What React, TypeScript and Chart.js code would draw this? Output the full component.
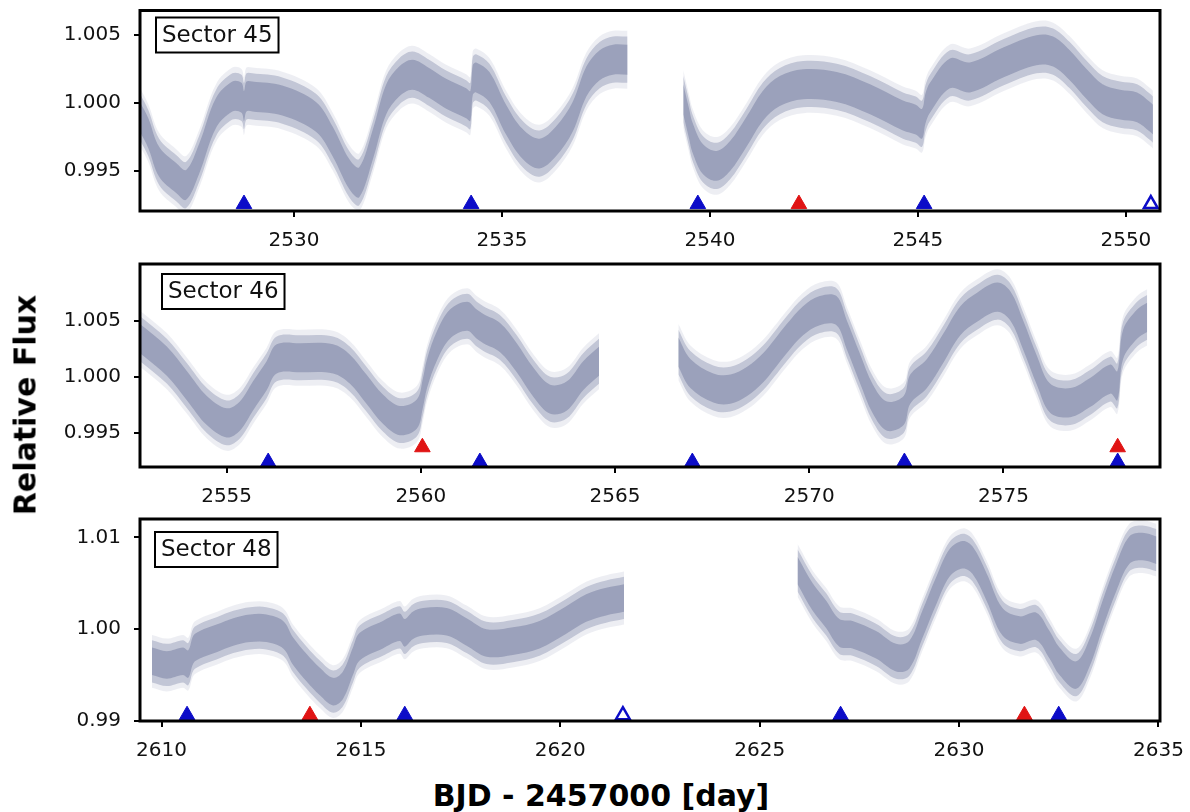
import { useEffect, useRef } from "react";
import { Chart, registerables } from "chart.js";

Chart.register(...registerables);

// ---------- Sector 45 ----------
const s45aTime = [2526.3, 2526.5, 2526.76, 2527.17, 2527.41, 2527.72, 2528.13, 2528.52, 2528.74, 2528.8, 2528.86, 2529.0, 2529.72, 2530.53, 2530.93, 2531.33, 2531.57, 2531.9, 2532.22, 2532.53, 2532.85, 2533.25, 2533.66, 2534.14, 2534.24, 2534.3, 2534.38, 2534.7, 2535.1, 2535.5, 2535.9, 2536.3, 2536.7, 2537.03, 2537.35, 2537.67, 2538.02];
const s45aFlux = [0.999, 0.9978, 0.9957, 0.9945, 0.994, 0.9959, 0.9993, 1.0005, 1.0004, 0.9998, 1.0005, 1.0005, 1.0002, 0.999, 0.9972, 0.9948, 0.9942, 0.997, 1.0003, 1.0016, 1.0021, 1.0015, 1.0007, 1.0, 0.9998, 1.0017, 1.0019, 1.0012, 0.9988, 0.997, 0.9963, 0.9972, 0.999, 1.0016, 1.0028, 1.0032, 1.0032];
const s45bTime = [2539.36, 2539.5, 2539.58, 2539.83, 2540.16, 2540.48, 2540.88, 2541.27, 2541.68, 2542.24, 2543.05, 2543.85, 2544.64, 2544.95, 2545.1, 2545.18, 2545.29, 2545.77, 2546.25, 2547.05, 2547.85, 2548.25, 2548.65, 2549.06, 2549.44, 2549.86, 2550.27, 2550.58, 2550.65];
const s45bFlux = [1.0003, 0.9985, 0.9975, 0.9959, 0.9954, 0.9961, 0.9979, 0.9998, 1.0009, 1.0014, 1.0012, 1.0003, 0.9991, 0.9988, 0.9985, 0.9996, 1.0004, 1.0022, 1.0019, 1.003, 1.0039, 1.0038, 1.0028, 1.0014, 1.0003, 0.9999, 0.9997, 0.999, 0.9988];
const s45Blue = [2528.8, 2534.26, 2539.71, 2545.15];
const s45BlueOpen = [2550.6];
const s45Red = [2542.14];
const s45XTicks = [2530, 2535, 2540, 2545, 2550];
const s45YTicks = [0.995, 1.0, 1.005];

// ---------- Sector 46 ----------
const s46aTime = [2552.77, 2553.46, 2553.98, 2554.49, 2555.0, 2555.34, 2555.68, 2556.03, 2556.29, 2556.89, 2557.74, 2558.17, 2558.6, 2559.03, 2559.46, 2559.9, 2560.05, 2560.16, 2560.42, 2560.75, 2561.19, 2561.44, 2561.61, 2562.04, 2562.47, 2562.9, 2563.33, 2563.76, 2564.18, 2564.59];
const s46aFlux = [1.0034, 1.0014, 0.9992, 0.997, 0.9959, 0.9965, 0.9983, 1.0001, 1.0016, 1.0017, 1.0016, 1.0007, 0.9989, 0.9971, 0.9961, 0.9967, 0.9985, 1.0003, 1.0028, 1.0047, 1.0054, 1.0047, 1.0043, 1.0035, 1.0017, 0.9995, 0.998, 0.9983, 1.0001, 1.0014];
const s46bTime = [2566.63, 2566.94, 2567.53, 2567.97, 2568.4, 2568.81, 2569.1, 2569.42, 2569.84, 2570.27, 2570.7, 2570.96, 2571.3, 2571.64, 2572.0, 2572.43, 2572.6, 2573.03, 2573.46, 2573.89, 2574.32, 2574.84, 2575.18, 2575.51, 2575.87, 2576.2, 2576.72, 2577.23, 2577.75, 2577.93, 2578.08, 2578.44, 2578.7];
const s46bFlux = [1.0022, 1.0003, 0.999, 0.9989, 0.9996, 1.0008, 1.002, 1.0034, 1.005, 1.0059, 1.0059, 1.0038, 1.0008, 0.998, 0.9965, 0.997, 0.9989, 1.0003, 1.0026, 1.005, 1.0062, 1.0071, 1.0063, 1.0037, 1.0005, 0.9981, 0.9977, 0.9986, 0.9998, 0.9992, 1.0029, 1.0047, 1.0053];
const s46Blue = [2556.07, 2561.52, 2566.99, 2572.45, 2577.94];
const s46BlueOpen: number[] = [];
const s46Red = [2560.04, 2577.94];
const s46XTicks = [2555, 2560, 2565, 2570, 2575];
const s46YTicks = [0.995, 1.0, 1.005];

// ---------- Sector 48 ----------
const s48aTime = [2609.76, 2610.13, 2610.54, 2610.67, 2610.8, 2610.96, 2611.38, 2611.8, 2612.22, 2612.63, 2613.05, 2613.3, 2613.64, 2613.97, 2614.3, 2614.55, 2614.8, 2614.97, 2615.55, 2615.97, 2616.1, 2616.3, 2616.56, 2617.15, 2617.65, 2618.15, 2618.81, 2619.48, 2620.15, 2620.65, 2621.15, 2621.6];
const s48aFlux = [0.9965, 0.9961, 0.9965, 0.9962, 0.9978, 0.9983, 0.999, 0.9997, 1.0001, 1.0001, 0.9994, 0.9976, 0.9958, 0.9943, 0.9932, 0.9939, 0.9965, 0.9981, 0.9994, 1.0002, 0.9996, 1.0004, 1.0008, 1.0008, 0.9997, 0.9985, 0.9987, 0.9994, 1.001, 1.0023, 1.003, 1.0034];
const s48bTime = [2625.95, 2626.33, 2626.67, 2627.0, 2627.33, 2627.92, 2628.42, 2628.75, 2629.08, 2629.42, 2629.76, 2630.09, 2630.34, 2630.69, 2631.09, 2631.52, 2631.94, 2632.27, 2632.52, 2632.94, 2633.27, 2633.6, 2633.94, 2634.27, 2634.6, 2634.95];
const s48bFlux = [1.0064, 1.0035, 1.0016, 0.9996, 0.9994, 0.9983, 0.9969, 0.9972, 1.0005, 1.0041, 1.0072, 1.0081, 1.0075, 1.0046, 1.0008, 0.9999, 1.0003, 0.9983, 0.9965, 0.995, 0.9974, 1.0016, 1.0056, 1.0086, 1.009, 1.0086];
const s48Blue = [2610.64, 2616.1, 2627.03, 2632.5];
const s48BlueOpen = [2621.57];
const s48Red = [2613.72, 2631.64];
const s48XTicks = [2610, 2615, 2620, 2625, 2630, 2635];
const s48YTicks = [0.99, 1.0, 1.01];

type Panel = {
  label: string;
  top: number;
  height: number;
  padTop: number;
  xHeight: number;
  xMin: number;
  xMax: number;
  yMin: number;
  yMax: number;
  xTicks: number[];
  yTicks: number[];
  yDec: number;
  segments: [number[], number[]][];
  bandOuter: number;
  bandInner: number;
  blue: number[];
  blueOpen: number[];
  red: number[];
  markY: number;
  redY: number;
  boxDx: number;
  boxDy: number;
};

const panels: Panel[] = [
  {
    label: "Sector 45", top: 0, height: 252, padTop: 10, xHeight: 41,
    xMin: 2526.3, xMax: 2550.82, yMin: 0.99208, yMax: 1.00682,
    xTicks: s45XTicks, yTicks: s45YTicks, yDec: 3,
    segments: [[s45aTime, s45aFlux], [s45bTime, s45bFlux]],
    bandOuter: 0.0017, bandInner: 0.0011,
    blue: s45Blue, blueOpen: s45BlueOpen, red: s45Red,
    markY: 0.99259, redY: 0.99259, boxDx: 16, boxDy: 7,
  },
  {
    label: "Sector 46", top: 252, height: 254, padTop: 12, xHeight: 39,
    xMin: 2552.77, xMax: 2579.03, yMin: 0.99196, yMax: 1.01006,
    xTicks: s46XTicks, yTicks: s46YTicks, yDec: 3,
    segments: [[s46aTime, s46aFlux], [s46bTime, s46bFlux]],
    bandOuter: 0.002, bandInner: 0.0013,
    blue: s46Blue, blueOpen: s46BlueOpen, red: s46Red,
    markY: 0.9924, redY: 0.99372, boxDx: 22, boxDy: 10,
  },
  {
    label: "Sector 48", top: 506, height: 254, padTop: 13, xHeight: 39,
    xMin: 2609.46, xMax: 2635.04, yMin: 0.99, yMax: 1.012,
    xTicks: s48XTicks, yTicks: s48YTicks, yDec: 2,
    segments: [[s48aTime, s48aFlux], [s48bTime, s48bFlux]],
    bandOuter: 0.0023, bandInner: 0.0015,
    blue: s48Blue, blueOpen: s48BlueOpen, red: s48Red,
    markY: 0.99063, redY: 0.99063, boxDx: 15, boxDy: 13,
  },
];

const FONT = "'DejaVu Sans', sans-serif";
const BAND = "142,149,178";
const BLUE = "#0c0cc8";
const RED = "#e01414";

function PanelChart({ p }: { p: Panel }) {
  const ref = useRef<HTMLCanvasElement>(null);
  useEffect(() => {
    if (!ref.current) return;
    const datasets: any[] = [];
    datasets.push({
      label: "blue", data: p.blue.map((x) => ({ x, y: p.markY })),
      showLine: false, pointStyle: "triangle", pointRadius: 9, pointHoverRadius: 9,
      backgroundColor: BLUE, borderColor: BLUE, borderWidth: 1, order: 0,
    });
    datasets.push({
      label: "blueOpen", data: p.blueOpen.map((x) => ({ x, y: p.markY })),
      showLine: false, pointStyle: "triangle", pointRadius: 8, pointHoverRadius: 8,
      backgroundColor: "#ffffff", borderColor: BLUE, borderWidth: 2.5, order: 0,
    });
    datasets.push({
      label: "red", data: p.red.map((x) => ({ x, y: p.redY })),
      showLine: false, pointStyle: "triangle", pointRadius: 9, pointHoverRadius: 9,
      backgroundColor: RED, borderColor: RED, borderWidth: 1, order: 0,
    });
    const layers: [number, string][] = [
      [p.bandOuter * 1.25, `rgba(${BAND},0.16)`],
      [p.bandOuter, `rgba(${BAND},0.45)`],
      [p.bandInner, `rgba(${BAND},0.75)`],
    ];
    for (const [t, f] of p.segments) {
      for (const [h, col] of layers) {
        datasets.push({
          label: "lo", data: t.map((x, i) => ({ x, y: f[i] - h })),
          borderWidth: 0, pointRadius: 0, fill: false, tension: 0.35,
          borderColor: "rgba(0,0,0,0)", order: 2,
        });
        datasets.push({
          label: "hi", data: t.map((x, i) => ({ x, y: f[i] + h })),
          borderWidth: 0, pointRadius: 0, fill: "-1", backgroundColor: col, tension: 0.35,
          borderColor: "rgba(0,0,0,0)", order: 2,
        });
      }
    }
    const framePlugin = {
      id: "frame" + p.label.replace(" ", ""),
      afterDraw(chart: any) {
        const { ctx, chartArea: a } = chart;
        ctx.save();
        ctx.strokeStyle = "#000";
        ctx.lineWidth = 3;
        ctx.strokeRect(a.left, a.top, a.right - a.left, a.bottom - a.top);
        ctx.font = `23px ${FONT}`;
        const tw = ctx.measureText(p.label).width;
        const bw = tw + 12;
        const bh = 35;
        const bx = a.left + p.boxDx;
        const by = a.top + p.boxDy;
        ctx.fillStyle = "#fff";
        ctx.fillRect(bx, by, bw, bh);
        ctx.lineWidth = 2;
        ctx.strokeRect(bx, by, bw, bh);
        ctx.fillStyle = "#111";
        ctx.textAlign = "center";
        ctx.textBaseline = "middle";
        ctx.fillText(p.label, bx + bw / 2, by + bh / 2 + 1);
        ctx.restore();
      },
    };
    const chart = new Chart(ref.current, {
      type: "line",
      data: { datasets },
      options: {
        animation: false,
        responsive: false,
        maintainAspectRatio: false,
        events: [],
        layout: { padding: { top: p.padTop, right: 30, left: 0, bottom: 0 } },
        plugins: { legend: { display: false }, tooltip: { enabled: false } },
        scales: {
          x: {
            type: "linear", min: p.xMin, max: p.xMax,
            afterBuildTicks: (s: any) => { s.ticks = p.xTicks.map((v) => ({ value: v })); },
            afterFit: (s: any) => { s.height = p.xHeight; s.paddingLeft = 0; s.paddingRight = 0; },
            grid: { display: true, drawOnChartArea: false, drawTicks: true, tickLength: 6, color: "#000", lineWidth: 2 },
            border: { display: false },
            ticks: { color: "#111", font: { family: FONT, size: 20 }, padding: 12, maxRotation: 0, callback: (v: any) => String(v) },
          },
          y: {
            type: "linear", min: p.yMin, max: p.yMax,
            afterBuildTicks: (s: any) => { s.ticks = p.yTicks.map((v) => ({ value: v })); },
            afterFit: (s: any) => { s.width = 140; s.paddingTop = 0; s.paddingBottom = 0; },
            grid: { display: true, drawOnChartArea: false, drawTicks: true, tickLength: 6, color: "#000", lineWidth: 2 },
            border: { display: false },
            ticks: { color: "#111", font: { family: FONT, size: 20 }, padding: 13, callback: (v: any) => Number(v).toFixed(p.yDec) },
          },
        },
      } as any,
      plugins: [framePlugin],
    });
    return () => chart.destroy();
  }, [p]);
  return (
    <div style={{ position: "absolute", left: 0, top: p.top, width: 1190, height: p.height }}>
      <canvas ref={ref} width={1190} height={p.height} style={{ display: "block" }} />
    </div>
  );
}

export default function App() {
  return (
    <div style={{ position: "fixed", left: 0, top: 0, width: 1190, height: 812, background: "#fff", overflow: "hidden" }}>
      {panels.map((p) => (
        <PanelChart key={p.label} p={p} />
      ))}
      <div
        style={{
          position: "absolute", left: 25, top: 405, transform: "translate(-50%, -50%) rotate(-90deg)",
          font: `bold 30px ${FONT}`, whiteSpace: "nowrap", color: "#000",
        }}
      >
        Relative Flux
      </div>
      <div
        style={{
          position: "absolute", left: 601, top: 795, transform: "translate(-50%, -50%)",
          font: `bold 30px ${FONT}`, whiteSpace: "nowrap", color: "#000",
        }}
      >
        BJD - 2457000 [day]
      </div>
    </div>
  );
}
